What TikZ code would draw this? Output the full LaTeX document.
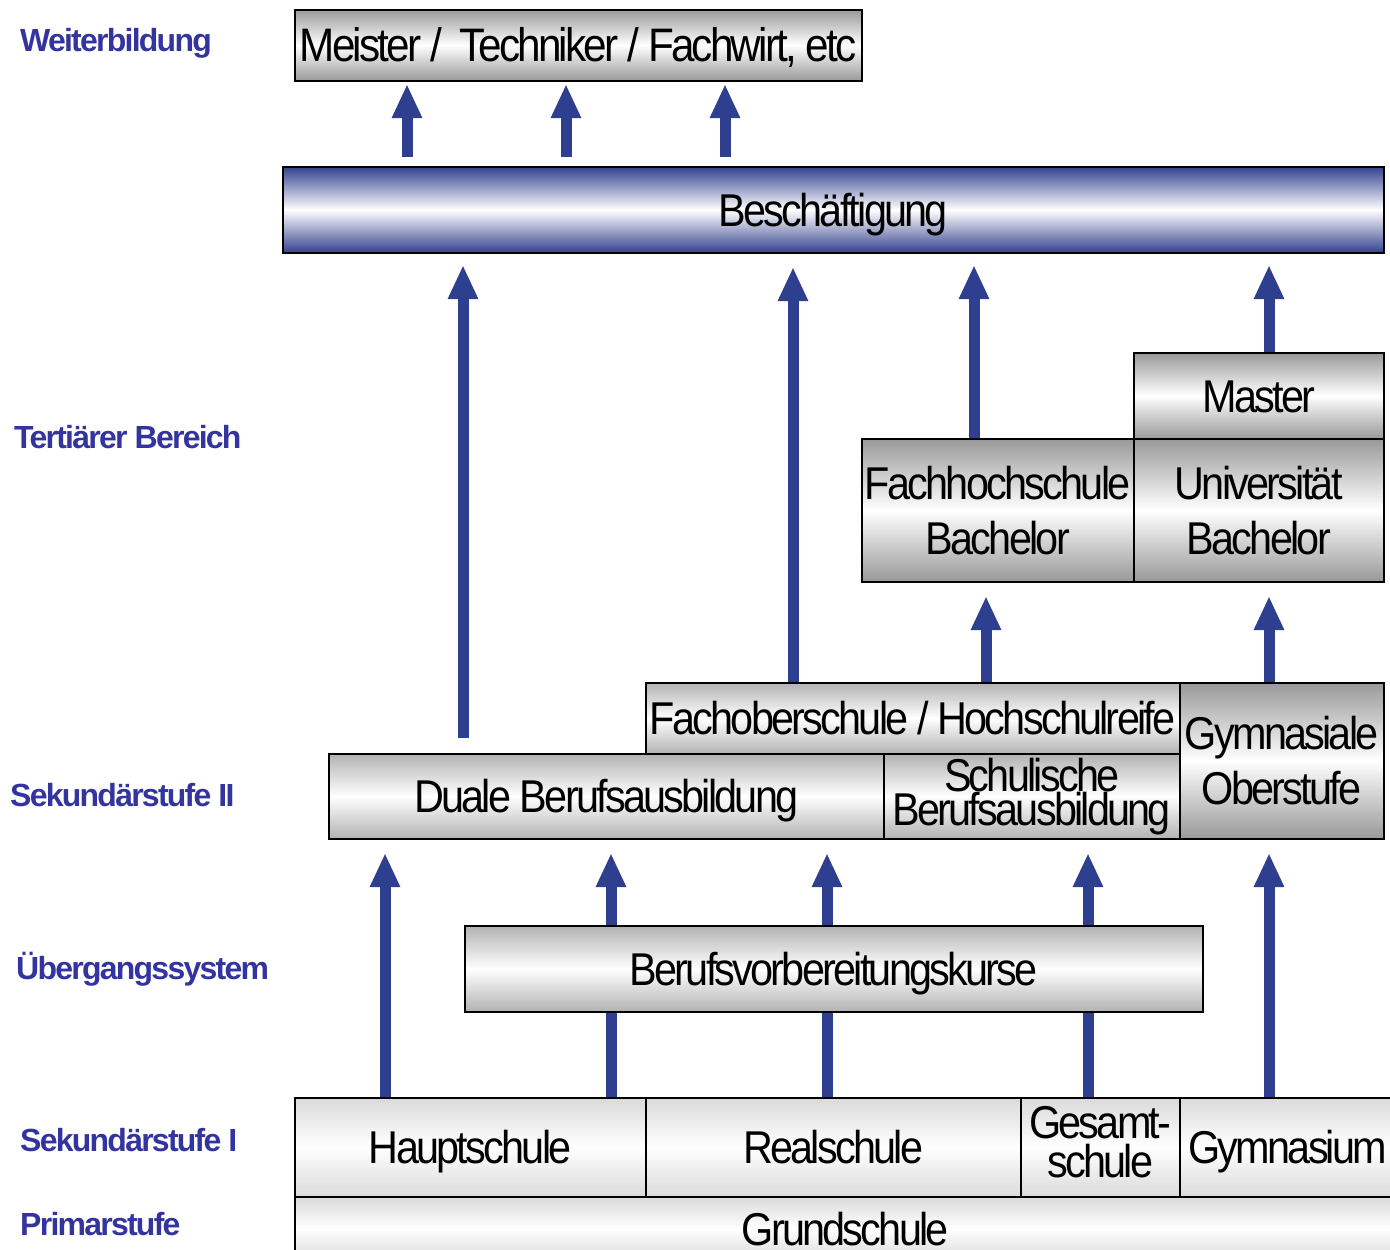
\documentclass[tikz,border=0pt]{standalone}
\usepackage{fontspec}
\usetikzlibrary{positioning,arrows.meta}
\newfontfamily\boxfont{Liberation Sans}[FakeStretch=0.9,LetterSpace=-6]
\newfontfamily\lblfont{Liberation Sans}[LetterSpace=-5.5]
\definecolor{arrowblue}{HTML}{2F3F8F}
\definecolor{labelblue}{HTML}{3434A0}
\definecolor{lightgray}{HTML}{DADADA}
\definecolor{midgray}{HTML}{B2B2B2}
\definecolor{darkgray}{HTML}{999999}
\definecolor{jobblue}{HTML}{34418D}

\begin{document}
\begin{tikzpicture}[x=1pt,y=-1pt,
  stage/.style={draw=black, line width=1.5pt, top color=#1, bottom color=#1, middle color=white,
    inner sep=0pt, anchor=north west, align=center, text height=33pt, text depth=0pt,
    font=\boxfont\fontsize{46}{55}\selectfont},
  stage/.default=midgray,
  twoline/.style={text height=, text depth=},
  tight/.style={twoline, font=\boxfont\fontsize{46}{34}\selectfont},
  level/.style={anchor=west, inner sep=0pt, text height=23pt, text depth=0pt, text=labelblue,
    font=\lblfont\bfseries\fontsize{32}{32}\selectfont},
  arr/.style={draw=arrowblue, line width=11pt, -{Triangle[width=28pt,length=34pt]}}]
\useasboundingbox (0,0) rectangle (1390,1250);

% Stufen links
\node[level] (weiter) at (20,40) {Weiterbildung};
\node[level] (tert) at (14,437) {Terti\"arer Bereich};
\node[level] (sek2) at (10,795) {Sekund\"arstufe II};
\node[level] (ueber) at (16,968) {\"Ubergangssystem};
\node[level] (sek1) at (20,1140) {Sekund\"arstufe I};
\node[level] (prim) at (20,1224) {Primarstufe};

% Sekundarstufe I und Grundschule
\node[stage=lightgray, minimum width=1101, minimum height=64] (grund) at (294,1196) {Grundschule};
\node[stage=lightgray, minimum width=351, minimum height=99] (haupt) at (294,1097) {Hauptschule};
\node[stage=lightgray, minimum width=375, minimum height=99] (real) at (645,1097) {Realschule};
\node[stage=lightgray, font=\boxfont\fontsize{46}{39}\selectfont, text height=, text depth=10pt,
  minimum width=159, minimum height=99] (gesamt) at (1020,1097) {Gesamt-\\schule};
\node[stage=lightgray, minimum width=216, minimum height=99] (gym) at (1179,1097) {Gymnasium};

% Pfeile durch das Uebergangssystem
\draw[arr] (haupt.north west) ++(91,0) -- ++(0,-244);
\draw[arr] (haupt.north west) ++(317,0) -- ++(0,-244);
\draw[arr] (real.north west) ++(182,0) -- ++(0,-244);
\draw[arr] (gesamt.north west) ++(68,0) -- ++(0,-244);
\draw[arr] (gym.north west) ++(90,0) -- ++(0,-244);

\node[stage, minimum width=738, minimum height=86] (bvk) at (464,925) {Berufsvorbereitungskurse};

% Sekundarstufe II
\node[stage, minimum width=555, minimum height=85] (duale) at (328,753) {Duale Berufsausbildung};
\node[stage, tight, minimum width=296, minimum height=85] (schul) at (883,753) {Schulische\\Berufsausbildung};
\node[stage, minimum width=534, minimum height=71] (fos) at (645,682) {Fachoberschule / Hochschulreife};
\node[stage=darkgray, twoline, minimum width=204, minimum height=156] (gymo) at (1179,682) {Gymnasiale\\Oberstufe};

% Tertiaerer Bereich
\node[stage=darkgray, twoline, minimum width=272, minimum height=143] (fh) at (861,438) {Fachhochschule\\Bachelor};
\node[stage=darkgray, twoline, minimum width=250, minimum height=143] (uni) at (1133,438) {Universit\"at\\Bachelor};
\node[stage=darkgray, minimum width=250, minimum height=86] (master) at (1133,352) {Master};

\draw[arr] (fos.north west) ++(341,0) -- ++(0,-86);
\draw[arr] (gymo.north west) ++(90,0) -- ++(0,-86);

% Beschaeftigung und Weiterbildung
\node[stage=jobblue, minimum width=1101, minimum height=86] (besch) at (282,166) {Besch\"aftigung};
\node[stage=darkgray, font=\boxfont\fontsize{47}{55}\selectfont, minimum width=567, minimum height=71] (meister)
  at (294,9) {Meister /\ \ Techniker / Fachwirt, etc};

\draw[arr] (duale.north west) ++(135,-15) -- ++(0,-473);
\draw[arr] (fos.north west) ++(148,0) -- ++(0,-415);
\draw[arr] (fh.north west) ++(113,0) -- ++(0,-173);
\draw[arr] (master.north west) ++(136,0) -- ++(0,-87);

\draw[arr] (besch.north west) ++(125,-9) -- ++(0,-73);
\draw[arr] (besch.north west) ++(284,-9) -- ++(0,-73);
\draw[arr] (besch.north west) ++(443,-9) -- ++(0,-73);
\end{tikzpicture}
\end{document}
